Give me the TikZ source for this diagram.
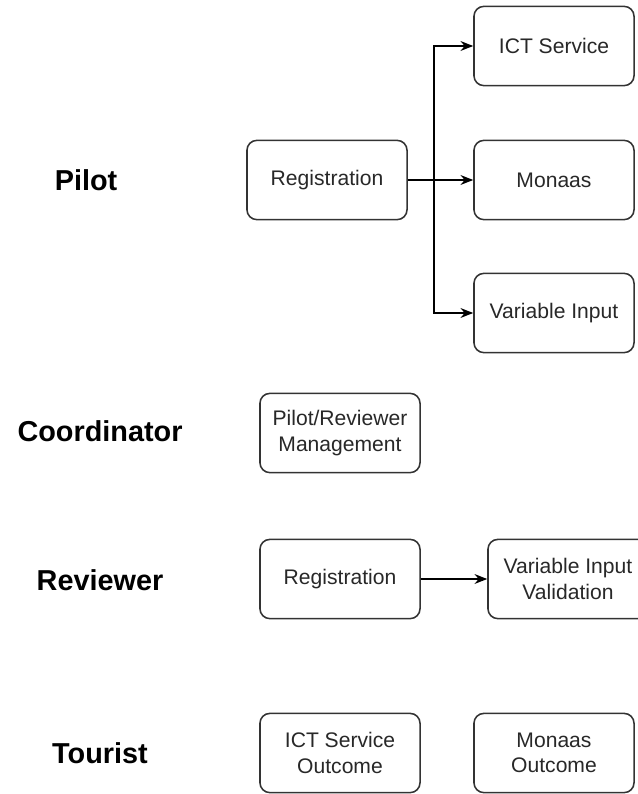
\documentclass[tikz,border=0pt]{standalone}
\usepackage{fontspec}
\setmainfont{Liberation Sans}
\usetikzlibrary{arrows.meta, positioning}
\definecolor{edgegray}{RGB}{51,51,51}
\definecolor{textgray}{RGB}{40,40,40}

\begin{document}
\begin{tikzpicture}[x=0.025cm, y=-0.025cm,
    box/.style={rectangle, rounded corners=7pt, draw=edgegray, line width=1.1pt, minimum width=4.0cm, minimum height=1.98cm, align=center, font=\fontsize{15}{18}\selectfont, text=textgray, inner sep=2pt},
    role/.style={font=\fontsize{20.5}{24}\selectfont\bfseries},
    link/.style={-{Stealth[length=9pt, width=7pt]}, line width=1.1pt}]
    \useasboundingbox (0,0) rectangle (637,794);
    \fill[white] (0,0) rectangle (637,794);
    \node[role] (pilot) at (86,180) {Pilot};
    \node[role] (coord) at (100,431) {Coordinator};
    \node[role] (rev) at (100,580) {Reviewer};
    \node[role] (tour) at (100,753) {Tourist};
    \node[box] (preg) at (327,180) {Registration};
    \node[box] (ict) at (554,46) {ICT Service};
    \node[box] (mon) at (554,180) {Monaas};
    \node[box] (var) at (554,313) {Variable Input};
    \node[box] (mgmt) at (340,433) {Pilot/Reviewer\\Management};
    \node[box] (rreg) at (340,579) {Registration};
    \node[box] (valid) at (568,579) {Variable Input\\Validation};
    \node[box] (ictout) at (340,753) {ICT Service\\Outcome};
    \node[box] (monout) at (554,753) {Monaas\\Outcome};
    \coordinate (split) at (434,180);
    \draw[link] (preg) -- (mon);
    \draw[link] (preg.east) -- (split) |- (ict.west);
    \draw[link] (split) |- (var.west);
    \draw[link] (rreg) -- (valid);
\end{tikzpicture}
\end{document}
